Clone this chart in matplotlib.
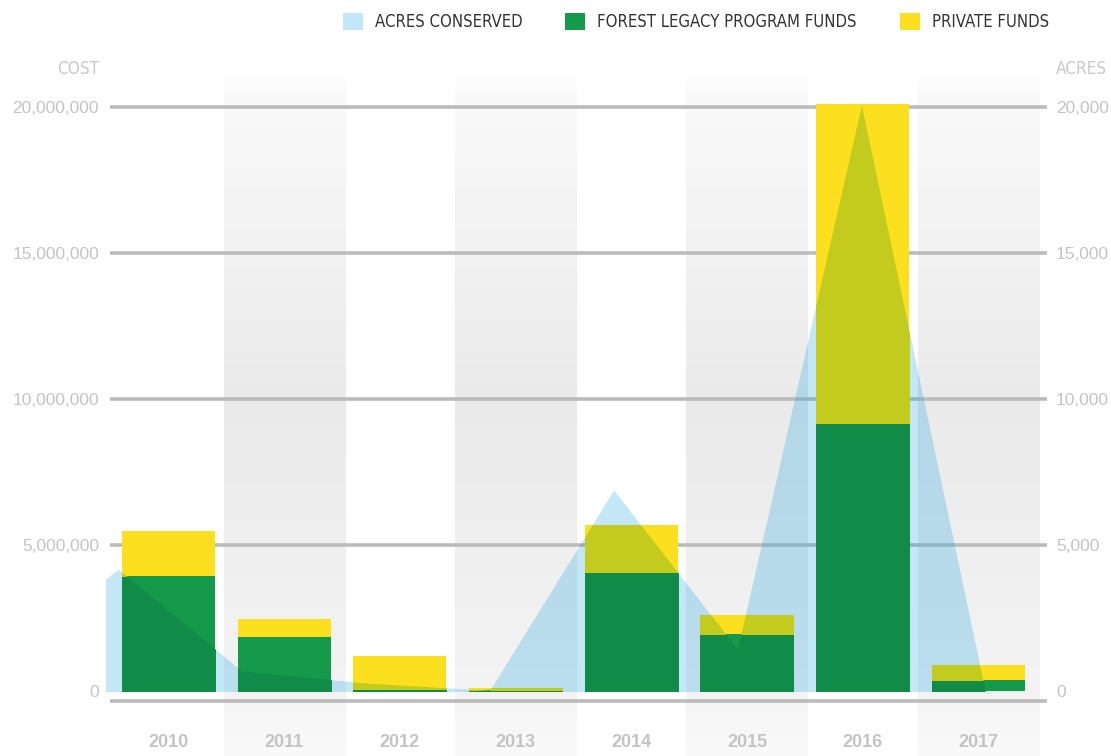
import numpy as np
import matplotlib.pyplot as plt
from matplotlib.patches import Patch
from matplotlib.font_manager import FontProperties

# cost bars (USD)
years = ['2010', '2011', '2012', '2013', '2014', '2015', '2016', '2017']
flp_funds = [3.95e6, 1.87e6, 0.07e6, 0.05e6, 4.09e6, 1.97e6, 9.18e6, 0.39e6]
private_funds = [1.54e6, 0.61e6, 1.15e6, 0.07e6, 1.60e6, 0.65e6, 10.91e6, 0.52e6]

# acres conserved (area, drawn on its own year scale)
acre_years = [2009, 2010, 2011, 2012, 2013, 2014, 2015, 2016, 2017]
acres = [670, 4190, 700, 290, 40, 6890, 1450, 20050, 0]

cost_ticks = [0, 5e6, 10e6, 15e6, 20e6]
cost_labels = ['0', '5,000,000', '10,000,000', '15,000,000', '20,000,000']
acre_ticks = [0, 5000, 10000, 15000, 20000]
acre_labels = ['0', '5,000', '10,000', '15,000', '20,000']

GREEN = '#15994a'
YELLOW = '#fce01f'
BLUE = '#c2e7f9'
GREY_TXT = '#c4c4c4'
GRID = '#bbbbbb'
AREA = '#c4e7f8'


def multiply(hex_a, hex_b):
    a = np.array([int(hex_a[i:i + 2], 16) for i in (1, 3, 5)]) / 255
    b = np.array([int(hex_b[i:i + 2], 16) for i in (1, 3, 5)]) / 255
    return tuple(a * b)


narrow = FontProperties(family='DejaVu Sans', stretch='condensed', size=12.3)
legend_font = FontProperties(family='DejaVu Sans', stretch='condensed', size=12.0)

fig = plt.figure(figsize=(11.11, 7.56), dpi=100)
ax = fig.add_axes([106 / 1111, 55 / 756, 941 / 1111, 628 / 756])
ax_ac = fig.add_axes([106 / 1111, 55 / 756, 941 / 1111, 628 / 756], frameon=False, label='acres')

x = np.arange(len(years))
ylo, yhi = -325000, 21150000
xlo, xhi = -0.540, 7.593

# shaded column bands
stops_px = [73, 95, 400, 690, 756]
stops_v = [0.99, 0.975, 0.915, 0.952, 0.975]
rows = np.linspace(73, 756, 200)
grad = np.interp(rows, stops_px, stops_v)[:, None]
for i in x[1::2]:
    ax.imshow(grad, extent=(i - 0.523, i + 0.523, -2.205e6, yhi), aspect='auto',
              cmap='gray', vmin=0, vmax=1, interpolation='bilinear', zorder=0, clip_on=False)

# grid lines + base line
ax.hlines(cost_ticks[1:], -0.506, xhi, color=GRID, lw=2.6, zorder=1)
ax.hlines(ylo, -0.506, xhi, color=GRID, lw=2.6, zorder=1, clip_on=False)

tr = ax_ac.transData
ax.fill_between(acre_years, acres, 0, transform=tr, color='#14a0e4', alpha=0.25, lw=0, zorder=2)

g = ax.bar(x, flp_funds, 0.804, color=GREEN, zorder=3)
yb = ax.bar(x, private_funds, 0.804, bottom=flp_funds, color=YELLOW, zorder=3)

# area seen through the bars (multiply look)
for bars, col in ((g, GREEN), (yb, YELLOW)):
    for patch in bars:
        p = ax.fill_between(acre_years, acres, 0, transform=tr,
                            color=multiply(col, AREA), lw=0, zorder=4)
        p.set_clip_path(patch)

ax.set_xlim(xlo, xhi)
ax.set_ylim(ylo, yhi)
ax.set_xticks(x, years)
ax.set_yticks(cost_ticks, cost_labels)
ax.tick_params(axis='x', length=0, pad=24, labelsize=13, labelcolor=GREY_TXT)
ax.tick_params(axis='y', length=0, pad=5, labelsize=12.5, labelcolor=GREY_TXT)
for lab in ax.get_xticklabels():
    lab.set_fontweight('bold')
    lab.set_family('Liberation Sans')
for lab in ax.get_yticklabels():
    lab.set_family('Liberation Sans')
for s in ax.spines.values():
    s.set_visible(False)

ax_ac.set_xlim(2010 - 12 / 123.9, 2010 + (1047 - 118) / 123.9)
ax_ac.set_ylim(ylo / 1000, yhi / 1000)
ax_ac.xaxis.set_visible(False)
ax_ac.yaxis.tick_right()
ax_ac.set_yticks(acre_ticks, acre_labels)
ax_ac.tick_params(axis='y', length=0, pad=6.5, labelsize=12.5, labelcolor=GREY_TXT)
for lab in ax_ac.get_yticklabels():
    lab.set_family('Liberation Sans')

fig.text(99 / 1111, 1 - 69 / 756, 'COST', ha='right', va='center', color='#c8c8c8',
         fontproperties=narrow)
fig.text(1056 / 1111, 1 - 69 / 756, 'ACRES', ha='left', va='center', color='#c8c8c8',
         fontproperties=narrow)

handles = [Patch(facecolor=BLUE), Patch(facecolor=GREEN), Patch(facecolor=YELLOW)]
labels = ['ACRES CONSERVED', 'FOREST LEGACY PROGRAM FUNDS', 'PRIVATE FUNDS']
fig.legend(handles, labels, loc='upper right', bbox_to_anchor=(1049 / 1111, 1 - 13 / 756),
           ncol=3, frameon=False, prop=legend_font, borderpad=0, borderaxespad=0,
           handlelength=1.2, handleheight=1.2, handletextpad=0.72, columnspacing=2.58,
           labelcolor='#333333')

plt.savefig('out.png', dpi=100)
